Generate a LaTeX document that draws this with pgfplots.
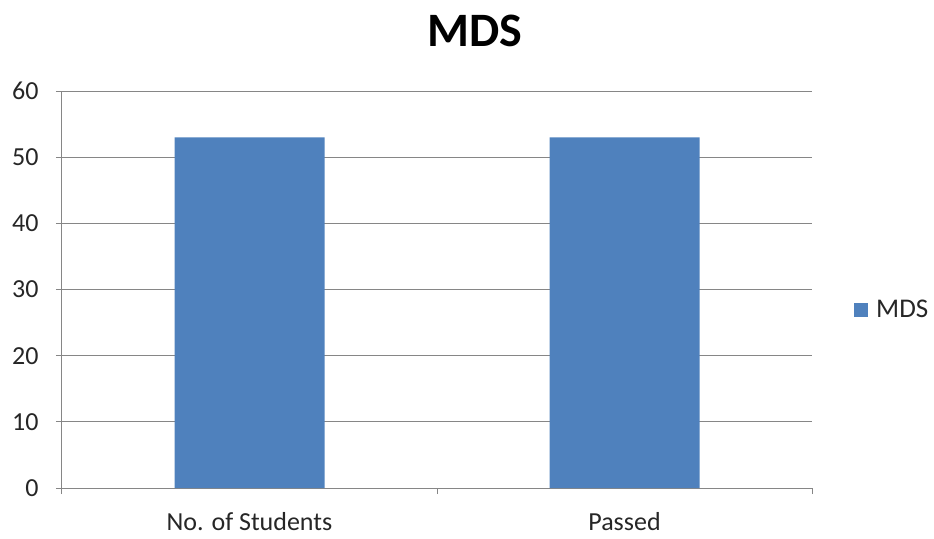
\documentclass[border=0pt]{standalone}
\usepackage{pgfplots}
\pgfplotsset{compat=1.18}
\usepackage{fontspec}
\setmainfont{Carlito}
\definecolor{barblue}{HTML}{4F81BD}
\definecolor{gridgray}{HTML}{868686}
\begin{document}
\begin{tikzpicture}[x=1pt,y=1pt]
\useasboundingbox (0,0) rectangle (934,538);
\node[font=\fontsize{48}{54}\selectfont\bfseries] at (475,507) {MDS};
\begin{axis}[
  at={(62pt,50pt)}, anchor=south west,
  scale only axis, width=750pt, height=397pt,
  ymin=0, ymax=60, ytick={0,10,...,60},
  xmin=-0.5, xmax=1.5,
  xtick={-0.5,0.5,1.5}, xticklabels={},
  extra x ticks={0,1},
  extra x tick labels={No. of Students, Passed},
  extra x tick style={major tick length=0pt, grid=none, xticklabel style={yshift=-21pt}},
  tick align=outside,
  major tick length=6pt,
  ymajorgrids, grid style={gridgray, line width=1pt},
  axis line style={gridgray, line width=1pt},
  tick style={gridgray, line width=1pt},
  axis x line*=bottom, axis y line*=left,
  every tick label/.append style={font=\fontsize{26}{30}\selectfont, text=black!85},
  yticklabel style={xshift=-14pt},
  /pgf/number format/assume math mode=true,
  ybar, bar width=150pt,
  legend style={draw=none, fill=none, at={(1,0.5)}, anchor=west, xshift=42pt, yshift=-20pt,
    font=\fontsize{27}{30}\selectfont, text=black!85, inner sep=0pt,
    /tikz/every even column/.append style={column sep=0pt}},
  legend image code/.code={\fill[barblue] (0pt,-7pt) rectangle (14pt,7pt);},
  legend cell align=left,
]
\addplot[fill=barblue, draw=none] coordinates {(0,53) (1,53)};
\addlegendentry{\hspace{6pt}MDS}
\end{axis}
\end{tikzpicture}
\end{document}
